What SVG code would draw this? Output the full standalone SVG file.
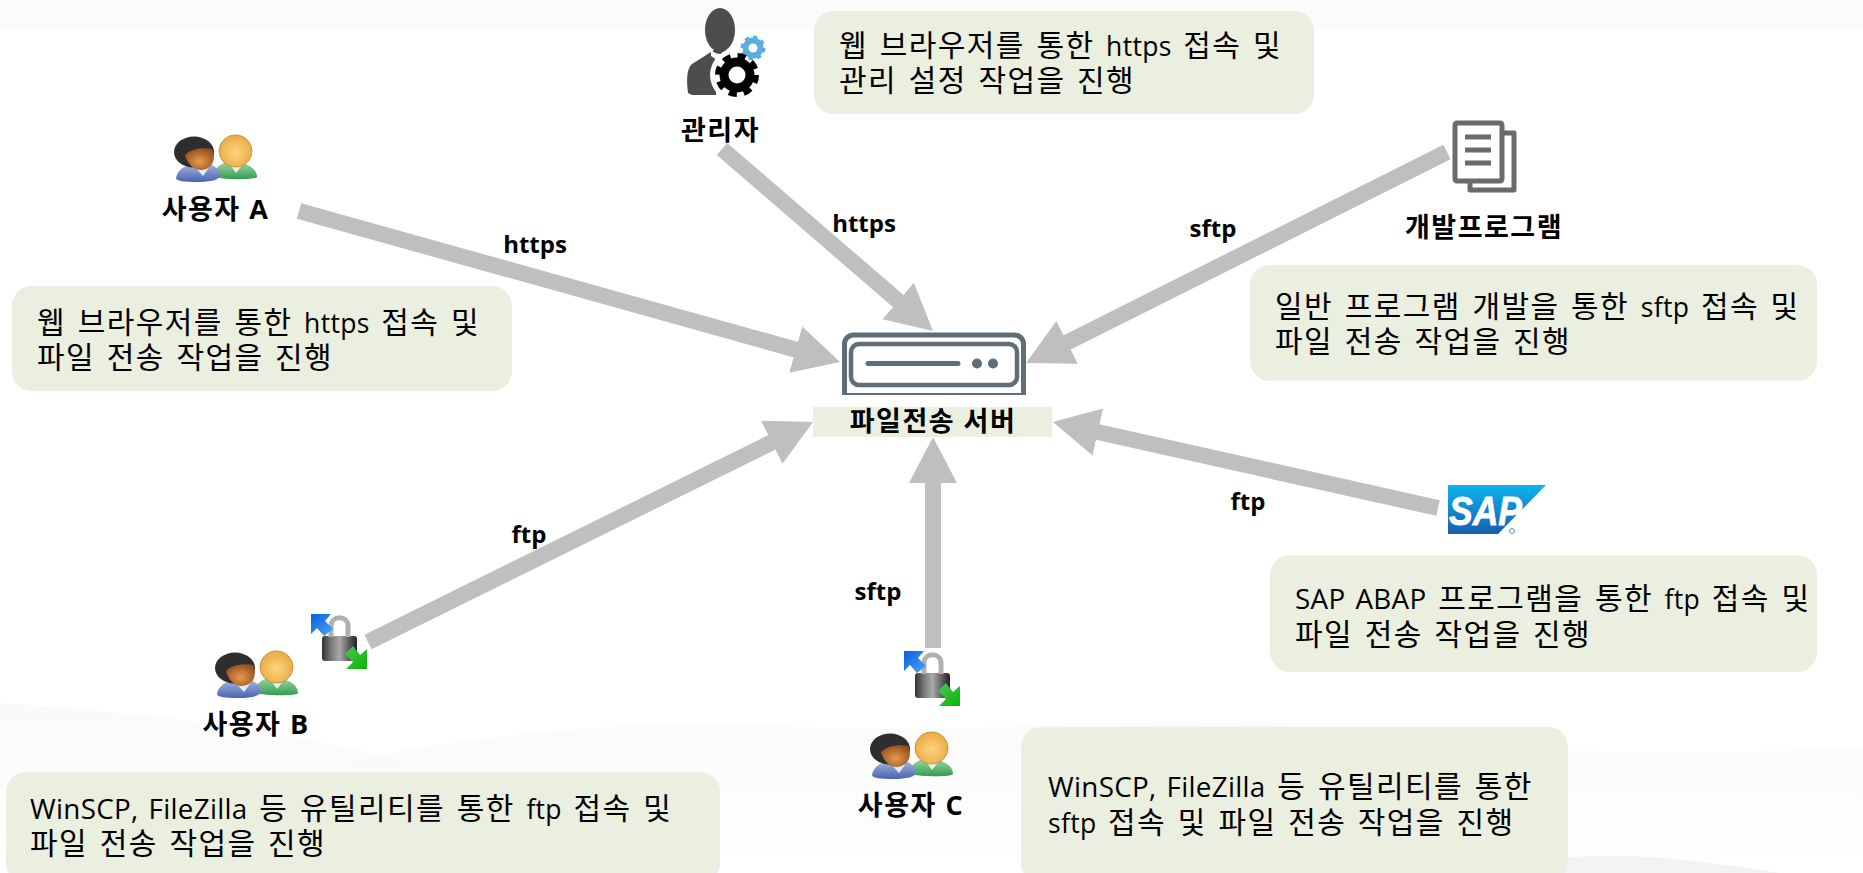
<svg xmlns="http://www.w3.org/2000/svg" width="1863" height="873" viewBox="0 0 1863 873">
<style>
text{font-family:"Open Sans","Noto Sans CJK KR",sans-serif;fill:#000}
.b{font-size:30px;letter-spacing:1.4px;word-spacing:2.5px}
.e{font-size:26.500px;letter-spacing:.3px}
.w{font-size:27.800px;letter-spacing:.3px}
.l{font-size:27px;font-weight:700;text-anchor:middle;letter-spacing:1.500px}
.le{font-size:27px}
.t{font-size:24px;font-weight:700;text-anchor:middle}
.box{fill:#ebefdf}
.c{stroke:#bfbfbf;stroke-width:16;fill:none;marker-end:url(#ah)}
</style>
<defs>
<marker id="ah" markerUnits="userSpaceOnUse" markerWidth="50" markerHeight="50" refX="6" refY="25" orient="auto"><path d="M0 1L46 25L0 49Z" fill="#bfbfbf"/></marker>
<linearGradient id="sap" x1="0" y1="0" x2="0" y2="1"><stop offset="0" stop-color="#0db4ee"/><stop offset="1" stop-color="#1a5db0"/></linearGradient>
<linearGradient id="lock" x1="0" y1="0" x2="1" y2="0"><stop offset="0" stop-color="#333"/><stop offset=".25" stop-color="#777"/><stop offset=".5" stop-color="#aaa"/><stop offset=".8" stop-color="#555"/><stop offset="1" stop-color="#222"/></linearGradient>
<linearGradient id="blue" x1="0" y1="0" x2="1" y2="1"><stop offset="0" stop-color="#0a5fe0"/><stop offset="1" stop-color="#49a6f5"/></linearGradient>
<linearGradient id="green" x1="0" y1="0" x2="1" y2="1"><stop offset="0" stop-color="#55c255"/><stop offset="1" stop-color="#02b802"/></linearGradient>
<linearGradient id="wave" x1="0" y1="0" x2="0" y2="1"><stop offset="0" stop-color="#f6f6f6"/><stop offset="1" stop-color="#fff"/></linearGradient>
<radialGradient id="skinD" cx=".5" cy=".6" r=".6"><stop offset="0" stop-color="#e89a4c"/><stop offset="1" stop-color="#94501f"/></radialGradient>
<radialGradient id="skinL" cx=".5" cy=".55" r=".6"><stop offset="0" stop-color="#ffd27e"/><stop offset="1" stop-color="#e6a83f"/></radialGradient>
<linearGradient id="gr" x1="0" y1="0" x2="0" y2="1"><stop offset="0" stop-color="#a8d8a8"/><stop offset="1" stop-color="#2f9e4f"/></linearGradient>
<linearGradient id="bl" x1="0" y1="0" x2="0" y2="1"><stop offset="0" stop-color="#a9b8e0"/><stop offset="1" stop-color="#4a64b0"/></linearGradient>
<g id="users">
<path d="M39 42C40 32 48 28 56 26L68 28C76 30 83 35 83 42C83 45 52 45 39 42Z" fill="url(#gr)"/>
<path d="M54 27L62 38L70 28L62 31Z" fill="#e6f5e6"/>
<ellipse cx="61.500" cy="16" rx="16.500" ry="16" fill="url(#skinL)" stroke="#b8862f" stroke-width=".8"/>
<path d="M2 43C3 36 9 31 20 28L34 28C41 31 46 35 46 40C46 45 36 47 24 47C10 47 2 46 2 43Z" fill="url(#bl)"/>
<path d="M18 29L29 41L37 30L29 33Z" fill="#e6ecf8"/>
<ellipse cx="20" cy="17" rx="20" ry="15.500" fill="#2e2e2e"/>
<path d="M11 20C16 14 28 12 38 14C42 22 40 34 27 35C19 35 13 28 11 20Z" fill="url(#skinD)"/>
</g>
<g id="winscp">
<rect x="11" y="24" width="35" height="25" rx="3" fill="url(#lock)"/>
<path d="M20 25V14C20 3 37 3 37 14V25" fill="none" stroke="#b0b0b0" stroke-width="5"/>
<path d="M0 2L20 2L14 9L22 17L13 24L6 16L0 22Z" fill="url(#blue)"/>
<path d="M56 37V57H35L42 50L34 42L42 34L49 43Z" fill="url(#green)"/>
</g>
</defs>
<rect width="1863" height="873" fill="#fff"/>
<g id="background">
<rect width="1863" height="30" fill="#fbfbfb"/>
<path d="M0 703C170 715 360 735 520 800L600 873H0Z" fill="url(#wave)" opacity=".6"/>
<path d="M297 770C420 745 600 715 800 727C1000 735 1130 715 1283 722C1450 750 1650 760 1863 747V873H297Z" fill="url(#wave)" opacity=".5"/>
<path d="M1500 873C1560 850 1640 850 1780 873Z" fill="#f3f3f3"/>
</g>
<g id="connectors">
<line class="c" x1="299" y1="211" x2="801.500" y2="351.200"/>
<line class="c" x1="722" y1="149" x2="902.700" y2="304.900"/>
<line class="c" x1="1447" y1="152" x2="1061.800" y2="345.100"/>
<line class="c" x1="1438" y1="508" x2="1092" y2="430.700"/>
<line class="c" x1="933" y1="648" x2="933" y2="477"/>
<line class="c" x1="368" y1="642" x2="777.200" y2="439.700"/>
<text x="535" y="253" class="t">https</text>
<text x="864" y="232" class="t">https</text>
<text x="1213" y="237" class="t">sftp</text>
<text x="1248" y="510" class="t">ftp</text>
<text x="878" y="600" class="t">sftp</text>
<text x="529" y="543" class="t">ftp</text>
</g>
<g id="server">
<path d="M844.500 395V344a9 9 0 0 1 9-9H1014.500a9 9 0 0 1 9 9V395" fill="none" stroke="#5f6f78" stroke-width="5"/>
<rect x="844" y="393" width="180" height="2" fill="#5f6f78"/>
<rect x="851" y="344" width="166" height="41" rx="8" fill="#fff" stroke="#5f6f78" stroke-width="4.500"/>
<line x1="868" y1="363.500" x2="958" y2="363.500" stroke="#5f6f78" stroke-width="5" stroke-linecap="round"/>
<circle cx="977" cy="363.500" r="5" fill="#5f6f78"/>
<circle cx="993" cy="363.500" r="5" fill="#5f6f78"/>
<rect x="813" y="407" width="239" height="30" class="box"/>
<text x="933" y="431" class="l">파일전송 서버</text>
</g>
<g id="admin">
<ellipse cx="720" cy="30" rx="15" ry="22" fill="#4d4d4d"/>
<path d="M688 93Q685 70 692 64Q700 59 714 50L728 50L738 62L716 78L716 95L692 95Z" fill="#4d4d4d"/>
<circle cx="737" cy="75" r="27" fill="#fff"/>
<path d="M711 50Q720 58 730 50L730 56L720 62L711 56Z" fill="#fff"/>
<circle cx="753" cy="48" r="7.500" fill="none" stroke="#5dade2" stroke-width="6"/>
<circle cx="753" cy="48" r="11" fill="none" stroke="#5dade2" stroke-width="3" stroke-dasharray="4.300 4.300"/>
<circle cx="737" cy="75" r="13" fill="none" stroke="#000" stroke-width="9"/>
<circle cx="737" cy="75" r="19" fill="none" stroke="#000" stroke-width="6" stroke-dasharray="8 6.920"/>
<text x="720.500" y="140" class="l">관리자</text>
</g>
<g id="adminNote">
<rect x="814" y="11" width="500" height="103" rx="20" class="box"/>
<text class="b"><tspan x="839" y="56">웹 브라우저를 통한 <tspan class="e">https</tspan> 접속 및</tspan><tspan x="839" y="91">관리 설정 작업을 진행</tspan></text>
</g>
<g id="userA">
<use href="#users" x="174" y="135"/>
<text x="215.500" y="219" class="l">사용자 <tspan class="le">A</tspan></text>
</g>
<g id="userANote">
<rect x="12" y="286" width="500" height="105" rx="20" class="box"/>
<text class="b"><tspan x="37" y="333">웹 브라우저를 통한 <tspan class="e">https</tspan> 접속 및</tspan><tspan x="37" y="368">파일 전송 작업을 진행</tspan></text>
</g>
<g id="dev">
<path d="M1466 133H1514V190H1470V176" fill="#fff" stroke="#6b6b6b" stroke-width="5" stroke-linejoin="round"/>
<rect x="1455" y="123" width="47" height="58" rx="2" fill="#fff" stroke="#6b6b6b" stroke-width="5"/>
<path d="M1465 137H1491M1465 150H1491M1465 163H1491" stroke="#6b6b6b" stroke-width="5"/>
<text x="1484" y="237" class="l">개발프로그램</text>
</g>
<g id="devNote">
<rect x="1250" y="265" width="567" height="116" rx="20" class="box"/>
<text class="b"><tspan x="1275" y="317">일반 프로그램 개발을 통한 <tspan class="e">sftp</tspan> 접속 및</tspan><tspan x="1275" y="352">파일 전송 작업을 진행</tspan></text>
</g>
<g id="sap">
<path d="M1448 485H1546L1498 534H1448Z" fill="url(#sap)"/>
<text x="1449" y="525" textLength="73" lengthAdjust="spacingAndGlyphs" style="font-family:'Liberation Sans',sans-serif;font-size:41px;font-weight:700;font-style:italic;fill:#fff;stroke:#fff;stroke-width:.8px">SAP</text>
<circle cx="1512" cy="531" r="2.500" fill="none" stroke="#5f8fc8"/>
</g>
<g id="sapNote">
<rect x="1270" y="555" width="547" height="117" rx="20" class="box"/>
<text class="b"><tspan x="1295" y="609"><tspan class="w">SAP ABAP</tspan> 프로그램을 통한 <tspan class="e">ftp</tspan> 접속 및</tspan><tspan x="1295" y="645">파일 전송 작업을 진행</tspan></text>
</g>
<g id="userB">
<use href="#winscp" x="311" y="612"/>
<use href="#users" x="215" y="651"/>
<text x="256" y="734" class="l">사용자 <tspan class="le">B</tspan></text>
</g>
<g id="userBNote">
<rect x="6" y="772" width="714" height="111" rx="20" class="box"/>
<text class="b"><tspan x="30" y="819"><tspan class="w">WinSCP, FileZilla</tspan> 등 유틸리티를 통한 <tspan class="e">ftp</tspan> 접속 및</tspan><tspan x="30" y="854">파일 전송 작업을 진행</tspan></text>
</g>
<g id="userC">
<use href="#winscp" x="904" y="649"/>
<use href="#users" x="870" y="732"/>
<text x="911" y="815" class="l">사용자 <tspan class="le">C</tspan></text>
</g>
<g id="userCNote">
<rect x="1021" y="727" width="547" height="156" rx="20" class="box"/>
<text class="b"><tspan x="1048" y="797"><tspan class="w">WinSCP, FileZilla</tspan> 등 유틸리티를 통한</tspan><tspan x="1048" y="833"><tspan class="e">sftp</tspan> 접속 및 파일 전송 작업을 진행</tspan></text>
</g>
</svg>
